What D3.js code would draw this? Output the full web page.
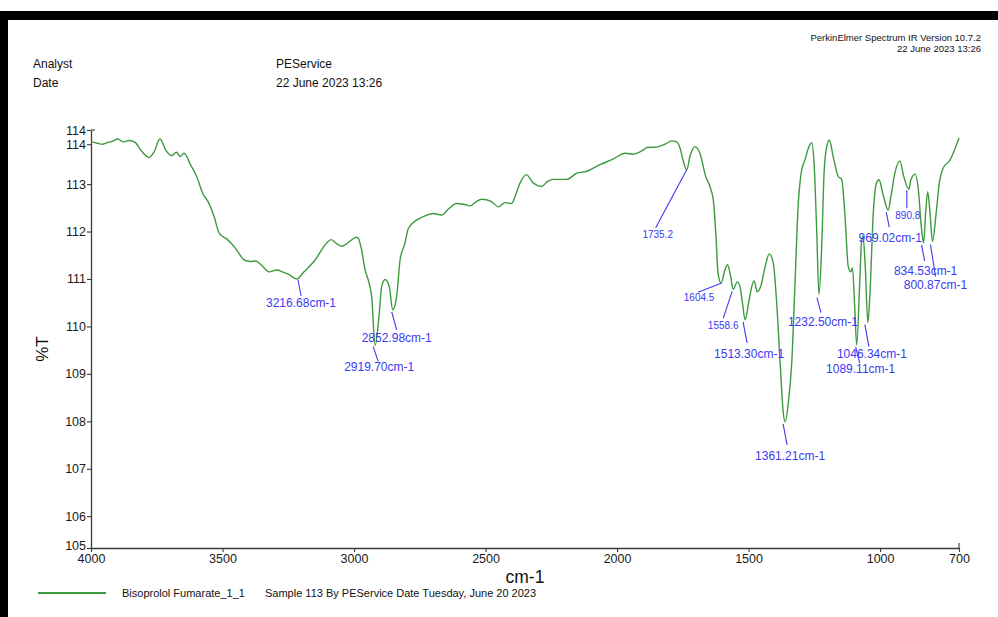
<!DOCTYPE html>
<html>
<head>
<meta charset="utf-8">
<script src="https://cdn.jsdelivr.net/npm/d3@7"></script>
<style>
  body { margin: 0; background: #fff; }
  svg { display: block; }
  .narrow { font-family: "Liberation Sans Narrow", "Arial Narrow", "Liberation Sans", Arial, sans-serif; }
  .sans { font-family: "Liberation Sans", Arial, sans-serif; }
</style>
</head>
<body>
<svg id="chart" width="998" height="617"></svg>
<script>
// IR spectrum: wavenumber (cm-1) and transmittance (%T)
const wavenumbers = [
  4000, 3975, 3956, 3935, 3920, 3898, 3876, 3854, 3832, 3811, 3792, 3779, 3760, 3738, 3716, 3694,
  3675, 3661, 3646, 3621, 3599, 3573, 3556, 3534, 3512, 3483, 3451, 3417, 3395, 3374, 3352, 3323,
  3293, 3272, 3250, 3216.68, 3192, 3148, 3104, 3087, 3065, 3046, 3017, 2991, 2984, 2971, 2958, 2946,
  2933, 2919.70, 2904, 2895, 2882, 2866, 2852.98, 2838, 2825, 2806, 2794, 2762, 2730, 2699, 2667, 2640,
  2610, 2580, 2559, 2535, 2515, 2477, 2451, 2426, 2401, 2385, 2369, 2344, 2330, 2318, 2287, 2265,
  2242, 2191, 2153, 2115, 2065, 2014, 1970, 1938, 1900, 1887, 1849, 1818, 1792, 1773, 1760, 1748,
  1735.2, 1723, 1704, 1685, 1663, 1647, 1634, 1624, 1616, 1604.5, 1590, 1580, 1568, 1558.6, 1543, 1533,
  1523, 1513.30, 1500, 1488, 1479, 1467, 1454, 1437, 1421, 1406, 1393, 1380, 1368, 1361.21, 1349, 1336,
  1323, 1311, 1298, 1286, 1273, 1260, 1251, 1241, 1232.50, 1222, 1213, 1203, 1193, 1178, 1159, 1146,
  1134, 1121, 1112, 1105, 1096, 1089.11, 1077, 1070, 1065, 1057, 1046.34, 1039, 1026, 1014, 1004, 990,
  969.02, 959, 944, 925, 910, 890.8, 883, 867, 855, 842, 834.53, 827, 819, 810, 800.87, 787,
  775, 760, 735, 722, 700
];
const transmittance = [
  113.90, 113.86, 113.84, 113.88, 113.90, 113.95, 113.89, 113.92, 113.88, 113.72, 113.60, 113.56, 113.68, 113.95, 113.72, 113.60,
  113.67, 113.58, 113.65, 113.40, 113.17, 112.78, 112.64, 112.35, 111.96, 111.84, 111.65, 111.40, 111.37, 111.38, 111.29, 111.15,
  111.19, 111.15, 111.10, 111.00, 111.14, 111.40, 111.76, 111.83, 111.74, 111.69, 111.79, 111.88, 111.86, 111.61, 111.19, 110.98,
  110.63, 109.60, 110.28, 110.84, 110.99, 110.84, 110.35, 110.63, 111.40, 111.76, 112.06, 112.24, 112.33, 112.38, 112.35, 112.48,
  112.59, 112.57, 112.54, 112.63, 112.68, 112.63, 112.52, 112.61, 112.59, 112.78, 113.02, 113.20, 113.11, 113.02, 112.95, 113.05,
  113.10, 113.10, 113.23, 113.27, 113.41, 113.53, 113.65, 113.63, 113.72, 113.77, 113.78, 113.84, 113.91, 113.89, 113.75, 113.48,
  113.30, 113.58, 113.79, 113.65, 113.16, 112.95, 112.66, 111.90, 111.12, 110.91, 111.19, 111.30, 111.05, 110.78, 110.94, 110.85,
  110.49, 110.14, 110.49, 110.84, 110.96, 110.73, 110.84, 111.26, 111.53, 111.33, 110.49, 109.23, 108.17, 107.99, 108.38, 109.23,
  110.98, 112.59, 113.30, 113.50, 113.75, 113.87, 113.44, 112.03, 110.67, 111.68, 113.23, 113.79, 113.93, 113.57, 113.16, 113.10,
  112.38, 111.26, 111.15, 111.23, 110.35, 109.61, 110.98, 111.83, 111.90, 111.33, 110.08, 110.63, 112.38, 113.02, 113.09, 112.81,
  112.45, 112.73, 113.23, 113.49, 113.16, 112.89, 113.09, 113.21, 112.91, 112.03, 111.76, 112.38, 112.84, 112.38, 111.79, 112.38,
  113.02, 113.34, 113.50, 113.65, 113.97
];

// Picked peaks
const peakWavenumbers = [3216.68, 2919.70, 2852.98, 1735.2, 1604.5, 1558.6, 1513.30, 1361.21, 1232.50, 1089.11, 1046.34, 969.02, 890.8, 834.53, 800.87];
const peakTransmittance = [111.00, 109.60, 110.35, 113.30, 110.91, 110.78, 110.14, 107.99, 110.67, 109.61, 110.08, 112.45, 112.89, 111.76, 111.79];
const peakLabels = ["3216.68cm-1", "2919.70cm-1", "2852.98cm-1", "1735.2", "1604.5", "1558.6", "1513.30cm-1", "1361.21cm-1",
  "1232.50cm-1", "1089.11cm-1", "1046.34cm-1", "969.02cm-1", "890.8", "834.53cm-1", "800.87cm-1"];

// Axis ticks
const xTickValues = [4000, 3500, 3000, 2500, 2000, 1500, 1000, 700];
const yTickValues = [105.33, 106, 107, 108, 109, 110, 111, 112, 113, 113.84, 114.14];
const xDomain = [4000, 700];
const yDomain = [105.33, 114.14];

// Header and legend text
const headerRows = [["Analyst", "PEService"], ["Date", "22 June 2023 13:26"]];
const instrumentLines = ["PerkinElmer Spectrum IR Version 10.7.2", "22 June 2023 13:26"];
const seriesName = "Bisoprolol Fumarate_1_1";
const seriesNote = "Sample 113 By PEService Date Tuesday, June 20 2023";

// Peak label placement: leader line start/end and text offsets from the peak, text size
const peakLabelLayout = [
  { line: [1, 1, 4, 17], text: [4, 28], size: 12 },
  { line: [-2, 1, 3, 16], text: [4, 26], size: 12 },
  { line: [-1, 2, 4, 20], text: [4, 32], size: 12 },
  { line: [0, 0, -31, 58], text: [-29, 68], size: 10 },
  { line: [0, 0, -23, 9], text: [-22, 18], size: 10 },
  { line: [-1, 2, -10, 29], text: [-10, 40], size: 10 },
  { line: [-2, 2, 2, 23], text: [4, 38], size: 12 },
  { line: [-2, 2, 2, 23], text: [5, 38], size: 12 },
  { line: [-2, 3, 2, 18], text: [4, 31], size: 12 },
  { line: [-1, 2, 3, 18], text: [4, 28], size: 12 },
  { line: [-3, 2, 1, 24], text: [4, 35], size: 12 },
  { line: [-2, 2, 1, 17], text: [2, 32], size: 12 },
  { line: [-2, 1, -2, 19], text: [-1, 30], size: 10 },
  { line: [-2, 2, 1, 18], text: [2, 32], size: 12 },
  { line: [-2, 3, 3, 35], text: [3, 48], size: 12 }
];

const svg = d3.select("#chart");
const W = 998, H = 617;
const plot = { left: 91, right: 959, top: 130, bottom: 548 };
const curveColor = "#3d9a3d";
const labelColor = "#3a3af2";
const axisColor = "#3a3a3a";

svg.append("rect").attr("width", W).attr("height", H).attr("fill", "#fff");

// Page frame
svg.append("rect").attr("x", 0).attr("y", 11).attr("width", W).attr("height", 9).attr("fill", "#000");
svg.append("rect").attr("x", 0).attr("y", 11).attr("width", 8).attr("height", H - 11).attr("fill", "#000");

// Header
const header = svg.append("g").attr("class", "narrow").attr("font-size", 12).attr("fill", "#111");
headerRows.forEach((row, i) => {
  header.append("text").attr("x", 33).attr("y", 68 + i * 19).text(row[0]);
  header.append("text").attr("x", 276).attr("y", 68 + i * 19).text(row[1]);
});
instrumentLines.forEach((t, i) => {
  svg.append("text").attr("class", "narrow").attr("x", 981).attr("y", 41 + i * 11)
    .attr("text-anchor", "end").attr("font-size", 9.5).attr("fill", "#111").text(t);
});

// Scales
const x = d3.scaleLinear().domain(xDomain).range([plot.left, plot.right]);
const y = d3.scaleLinear().domain(yDomain).range([plot.bottom, plot.top]);

// Axes
const fmt = d3.format(".0f");
const yAxis = svg.append("g").attr("transform", `translate(${plot.left},0)`)
  .call(d3.axisLeft(y).tickValues(yTickValues).tickFormat(fmt).tickSize(4).tickSizeOuter(0).tickPadding(1));
const xAxis = svg.append("g").attr("transform", `translate(0,${plot.bottom})`)
  .call(d3.axisBottom(x).tickValues(xTickValues).tickFormat(fmt).tickSize(4).tickSizeOuter(0).tickPadding(2));
[xAxis, yAxis].forEach(g => {
  g.attr("class", "sans").attr("font-size", 12.5);
  g.select(".domain").attr("stroke", axisColor).attr("stroke-width", 1.3);
  g.selectAll(".tick line").attr("stroke", axisColor).attr("stroke-width", 1.1);
  g.selectAll(".tick text").attr("fill", "#1a1a1a");
});
// Bottom-end label of the y axis sits just above the corner
yAxis.selectAll(".tick text").filter(d => d === yDomain[0]).attr("dy", "0.1em");
// End caps on the axis ends
svg.append("line").attr("x1", plot.left).attr("x2", plot.left + 4)
  .attr("y1", y(yDomain[1])).attr("y2", y(yDomain[1])).attr("stroke", axisColor).attr("stroke-width", 1.1);
svg.append("line").attr("x1", x(xDomain[1])).attr("x2", x(xDomain[1]))
  .attr("y1", plot.bottom).attr("y2", plot.bottom - 5).attr("stroke", axisColor).attr("stroke-width", 1.1);

// Axis titles
svg.append("text").attr("class", "sans").attr("x", (plot.left + plot.right) / 2).attr("y", 583)
  .attr("text-anchor", "middle").attr("font-size", 17.5).attr("fill", "#111").text("cm-1");
svg.append("text").attr("class", "sans").attr("transform", "translate(48,349) rotate(-90)")
  .attr("text-anchor", "middle").attr("font-size", 17).attr("fill", "#111").text("%T");

// Spectrum
const points = wavenumbers.map((w, i) => [w, transmittance[i]]);
const line = d3.line().x(d => x(d[0])).y(d => y(d[1])).curve(d3.curveMonotoneX);
svg.append("path").datum(points).attr("d", line)
  .attr("fill", "none").attr("stroke", curveColor).attr("stroke-width", 1.4).attr("stroke-linejoin", "round");

// Peak labels
const peaks = svg.append("g");
peakWavenumbers.forEach((w, i) => {
  const px = x(w), py = y(peakTransmittance[i]);
  const L = peakLabelLayout[i];
  peaks.append("line")
    .attr("x1", px + L.line[0]).attr("y1", py + L.line[1])
    .attr("x2", px + L.line[2]).attr("y2", py + L.line[3])
    .attr("stroke", labelColor).attr("stroke-width", 1.1);
  peaks.append("text").attr("class", "sans")
    .attr("x", px + L.text[0]).attr("y", py + L.text[1])
    .attr("text-anchor", "middle").attr("font-size", L.size).attr("fill", labelColor)
    .text(peakLabels[i]);
});

// Legend
svg.append("line").attr("x1", 38).attr("x2", 106).attr("y1", 593).attr("y2", 593)
  .attr("stroke", curveColor).attr("stroke-width", 2);
svg.append("text").attr("class", "narrow").attr("x", 122).attr("y", 597).attr("font-size", 11).attr("fill", "#111").text(seriesName);
svg.append("text").attr("class", "narrow").attr("x", 265).attr("y", 597).attr("font-size", 11).attr("fill", "#111").text(seriesNote);
</script>
</body>
</html>
